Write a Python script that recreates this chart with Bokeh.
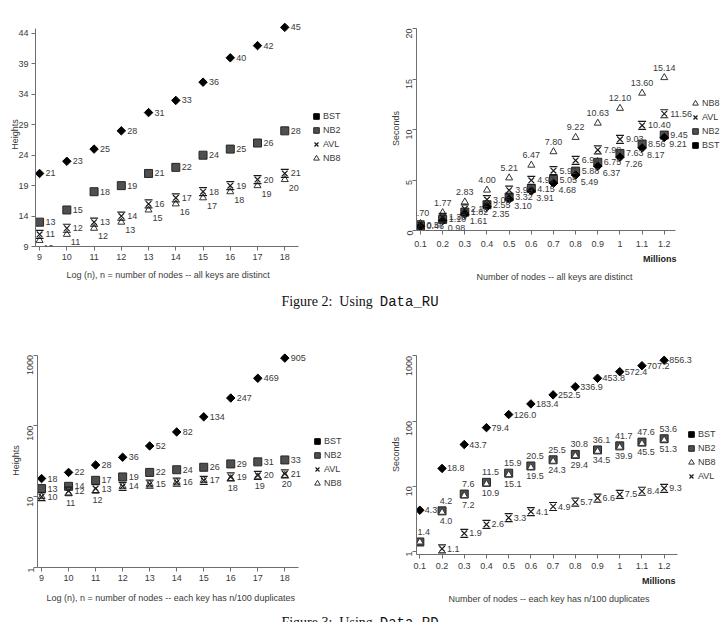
import math

from bokeh.embed import file_html
from bokeh.layouts import column, row
from bokeh.models import (ColumnDataSource, Div, FixedTicker, Label, Legend,
                          LegendItem, Range1d, Title)
from bokeh.plotting import figure
from bokeh.resources import INLINE

# ---------------------------------------------------------------- data
log_n = [9, 10, 11, 12, 13, 14, 15, 16, 17, 18]
log_n_labels = ["9", "10", "11", "12", "13", "14", "15", "16", "17", "18"]

millions = [0.1, 0.2, 0.3, 0.4, 0.5, 0.6, 0.7, 0.8, 0.9, 1, 1.1, 1.2]
millions_labels = ["0.1", "0.2", "0.3", "0.4", "0.5", "0.6", "0.7", "0.8",
                   "0.9", "1", "1.1", "1.2"]

# Data_RU: heights, all keys distinct
ru_height_bst = [21, 23, 25, 28, 31, 33, 36, 40, 42, 45]
ru_height_nb2 = [13, 15, 18, 19, 21, 22, 24, 25, 26, 28]
ru_height_avl = [11, 12, 13, 14, 16, 17, 18, 19, 20, 21]
ru_height_nb8 = [10, 11, 12, 13, 15, 16, 17, 18, 19, 20]
ru_height_ticks = [9, 14, 19, 24, 29, 34, 39, 44]

# Data_RU: seconds, all keys distinct
ru_sec_nb8 = [0.70, 1.77, 2.83, 4.00, 5.21, 6.47, 7.80, 9.22, 10.63, 12.10, 13.60, 15.14]
ru_sec_avl = [0.57, 1.30, 2.15, 3.06, 3.99, 4.97, 5.92, 6.94, 7.98, 9.03, 10.40, 11.56]
ru_sec_nb2 = [0.46, 1.10, 1.82, 2.55, 3.32, 4.15, 5.05, 5.88, 6.75, 7.63, 8.56, 9.45]
ru_sec_bst = [0.41, 0.98, 1.61, 2.35, 3.10, 3.91, 4.68, 5.49, 6.37, 7.26, 8.17, 9.21]
ru_sec_ticks = [0, 5, 10, 15, 20]

# Data_RD: heights, each key has n/100 duplicates
rd_height_bst = [18, 22, 28, 36, 52, 82, 134, 247, 469, 905]
rd_height_nb2 = [13, 14, 17, 19, 22, 24, 26, 29, 31, 33]
rd_height_avl = [10, 12, 13, 14, 15, 16, 17, 19, 20, 21]
rd_height_nb8 = [10, 11, 12, 14, 15, 16, 17, 18, 19, 20]

# Data_RD: seconds, each key has n/100 duplicates (AVL at 0.1 falls below the axis)
rd_sec_bst = [4.3, 18.8, 43.7, 79.4, 126.0, 183.4, 252.5, 336.9, 453.8, 572.4, 707.2, 856.3]
rd_sec_nb2 = [1.4, 4.2, 7.6, 11.5, 15.9, 20.5, 25.5, 30.8, 36.1, 41.7, 47.6, 53.6]
rd_sec_nb8 = [1.4, 4.0, 7.2, 10.9, 15.1, 19.5, 24.3, 29.4, 34.5, 39.9, 45.5, 51.3]
rd_sec_avl = [float("nan"), 1.1, 1.9, 2.6, 3.3, 4.1, 4.9, 5.7, 6.6, 7.5, 8.4, 9.3]

log_ticks = [1, 10, 100, 1000]
log_tick_labels = ["1", "10", "100", "1000"]

# ---------------------------------------------------------------- style
FONT = "Liberation Sans"
FS = "9px"
TEXT = "#3a3a3a"
AXIS = "#6e6e6e"


def make_fig(x_range, y_range, y_type, left, top, bottom):
    p = figure(width=360, height=285, x_range=x_range, y_range=y_range,
               y_axis_type=y_type, output_backend="svg", toolbar_location=None,
               title=None, frame_align=False,
               min_border_left=left, min_border_right=0,
               min_border_top=top, min_border_bottom=bottom)
    p.grid.visible = False
    p.outline_line_color = None
    for ax in p.axis:
        ax.axis_line_color = AXIS
        ax.major_tick_line_color = AXIS
        ax.minor_tick_line_color = None
        ax.major_tick_out = 4
        ax.major_tick_in = 0
        ax.major_label_standoff = 3
        ax.major_label_text_font = FONT
        ax.major_label_text_font_size = FS
        ax.major_label_text_color = TEXT
        ax.axis_label_text_font = FONT
        ax.axis_label_text_font_size = FS
        ax.axis_label_text_font_style = "normal"
        ax.axis_label_text_color = TEXT
    p.yaxis.axis_label_standoff = 1
    return p


def set_ticks(ax, ticks, labels):
    ax.ticker = FixedTicker(ticks=ticks)
    ax.major_label_overrides = {t: s for t, s in zip(ticks, labels)}


def draw_series(p, kind, xs, ys, fmt, dx, dy, align, baseline, shown=None):
    keep = [i for i, y in enumerate(ys) if not math.isnan(y)]
    src = ColumnDataSource(dict(x=[xs[i] for i in keep], y=[ys[i] for i in keep]))
    rs = []
    if kind == "BST":
        rs.append(p.scatter("x", "y", source=src, marker="square", angle=math.pi / 4,
                            size=6, fill_color="#000000", line_color="#000000"))
    elif kind == "NB2":
        rs.append(p.scatter("x", "y", source=src, marker="square", size=8,
                            fill_color="#4f4f4f", line_color="#262626"))
    elif kind == "NB8":
        rs.append(p.scatter("x", "y", source=src, marker="triangle", size=7,
                            fill_color="#ffffff", line_color="#333333", line_width=1))
    else:  # AVL: an hourglass made from an x and a top/bottom bar pair
        p.rect("x", "y", source=src, width=8, height=8, width_units="screen",
               height_units="screen", fill_color=None, line_color="#1a1a1a",
               line_width=1.2, line_dash="8 8")
        rs.append(p.scatter("x", "y", source=src, marker="x", size=8,
                            line_color="#1a1a1a", line_width=1.2))
    # value labels, one annotation per point so that none is cut at the frame edge
    for i in keep:
        if shown is not None and not shown[i]:
            continue
        p.add_layout(Label(x=xs[i], y=ys[i], text=fmt.format(ys[i]),
                           x_offset=dx, y_offset=dy, text_align=align,
                           text_baseline=baseline, text_font=FONT,
                           text_font_size=FS, text_color=TEXT))
    return rs


def add_legend(p, entries, loc):
    items = [LegendItem(label=name, renderers=rs) for name, rs in entries]
    leg = Legend(items=items, location=loc, border_line_color=None,
                 background_fill_alpha=0, label_text_font=FONT, label_text_font_size=FS,
                 label_text_color=TEXT, glyph_width=14, glyph_height=14,
                 label_height=13, label_standoff=0, spacing=0, padding=0, margin=0)
    p.add_layout(leg)


def add_below_titles(p, texts):
    # (text, align, bold, standoff, offset)
    for text, align, bold, gap, shift in texts:
        p.add_layout(Title(text=text, align=align, text_font=FONT, text_font_size=FS,
                           text_font_style="bold" if bold else "normal",
                           text_color="#222222" if bold else TEXT,
                           standoff=gap, offset=shift), "below")


# ---------------------------------------------------------------- Data_RU heights
p1 = make_fig(Range1d(8.85, 20.78), Range1d(9, 45.8), "linear", 35, 22, 39)
set_ticks(p1.xaxis[0], log_n, log_n_labels)
set_ticks(p1.yaxis[0], ru_height_ticks, [str(t) for t in ru_height_ticks])
p1.xaxis.bounds = (8.85, 18.5)
p1.yaxis.bounds = (9, 44.8)
p1.yaxis.axis_label = "Heights"
p1.yaxis.axis_label_standoff = -5
r_bst = draw_series(p1, "BST", log_n, ru_height_bst, "{:.0f}", 6, 0, "left", "middle")
r_nb2 = draw_series(p1, "NB2", log_n, ru_height_nb2, "{:.0f}", 6, 0, "left", "middle")
r_nb8 = draw_series(p1, "NB8", log_n, ru_height_nb8, "{:.0f}", 4, -8, "left", "middle")
r_avl = draw_series(p1, "AVL", log_n, ru_height_avl, "{:.0f}", 6, 0, "left", "middle")
add_legend(p1, [("BST", r_bst), ("NB2", r_nb2), ("AVL", r_avl), ("NB8", r_nb8)], (274, 81))
add_below_titles(p1, [("Log (n), n = number of nodes -- all keys are distinct",
                       "left", False, 11, 31)])

# ---------------------------------------------------------------- Data_RU seconds
p2 = make_fig(Range1d(0.082, 1.4537), Range1d(0, 20.2), "linear", 56, 26, 55)
set_ticks(p2.xaxis[0], millions, millions_labels)
set_ticks(p2.yaxis[0], ru_sec_ticks, [str(t) for t in ru_sec_ticks])
p2.xaxis.major_label_standoff = 6
p2.yaxis.major_label_orientation = math.pi / 2
p2.yaxis.axis_label_standoff = 0
p2.xaxis.bounds = (0.082, 1.25)
p2.yaxis.bounds = (0, 20)
p2.yaxis.axis_label = "Seconds"
r_nb8 = draw_series(p2, "NB8", millions, ru_sec_nb8, "{:.2f}", 0, 7, "center", "bottom")
r_nb2 = draw_series(p2, "NB2", millions, ru_sec_nb2, "{:.2f}", 6, 0, "left", "middle")
r_bst = draw_series(p2, "BST", millions, ru_sec_bst, "{:.2f}", 5, -7, "left", "middle")
r_avl = draw_series(p2, "AVL", millions, ru_sec_avl, "{:.2f}", 6, 0, "left", "middle")
add_legend(p2, [("NB8", r_nb8), ("AVL", r_avl), ("NB2", r_nb2), ("BST", r_bst)], (272, 78))
add_below_titles(p2, [("Millions", "right", True, 4, 44),
                      ("Number of nodes -- all keys are distinct", "left", False, 8, 60)])

# ---------------------------------------------------------------- Data_RD heights
p3 = make_fig(Range1d(8.85, 20.8), Range1d(1, 1050), "log", 37, 28, 43)
set_ticks(p3.xaxis[0], log_n, log_n_labels)
set_ticks(p3.yaxis[0], log_ticks, log_tick_labels)
p3.yaxis.major_label_orientation = math.pi / 2
p3.xaxis.bounds = (8.85, 18.5)
p3.yaxis.bounds = (1, 1000)
p3.yaxis.axis_label = "Heights"
rd_nb8_shown = [a != b for a, b in zip(rd_height_nb8, rd_height_avl)]
r_bst = draw_series(p3, "BST", log_n, rd_height_bst, "{:.0f}", 6, 0, "left", "middle")
r_nb2 = draw_series(p3, "NB2", log_n, rd_height_nb2, "{:.0f}", 6, 0, "left", "middle")
r_nb8 = draw_series(p3, "NB8", log_n, rd_height_nb8, "{:.0f}", 2, -9, "center", "middle",
                    rd_nb8_shown)
r_avl = draw_series(p3, "AVL", log_n, rd_height_avl, "{:.0f}", 6, 0, "left", "middle")
add_legend(p3, [("BST", r_bst), ("NB2", r_nb2), ("AVL", r_avl), ("NB8", r_nb8)], (273, 77))
add_below_titles(p3, [("Log (n), n = number of nodes -- each key has n/100 duplicates",
                       "left", False, 15, 9)])

# ---------------------------------------------------------------- Data_RD seconds
p4 = make_fig(Range1d(0.085, 1.4537), Range1d(0.9, 1050), "log", 56, 29, 56)
set_ticks(p4.xaxis[0], millions, millions_labels)
set_ticks(p4.yaxis[0], log_ticks, log_tick_labels)
p4.xaxis.major_label_standoff = 4
p4.yaxis.major_label_orientation = math.pi / 2
p4.yaxis.axis_label_standoff = 0
p4.xaxis.bounds = (0.085, 1.26)
p4.yaxis.bounds = (0.9, 1000)
p4.yaxis.axis_label = "Seconds"
rd_sec_nb8_shown = [a != b for a, b in zip(rd_sec_nb8, rd_sec_nb2)]
r_bst = draw_series(p4, "BST", millions, rd_sec_bst, "{:.1f}", 5, 0, "left", "middle")
r_nb2 = draw_series(p4, "NB2", millions, rd_sec_nb2, "{:.1f}", 4, 10, "center", "middle")
r_nb8 = draw_series(p4, "NB8", millions, rd_sec_nb8, "{:.1f}", 4, -9, "center", "middle",
                    rd_sec_nb8_shown)
r_avl = draw_series(p4, "AVL", millions, rd_sec_avl, "{:.1f}", 5, 0, "left", "middle")
add_legend(p4, [("BST", r_bst), ("NB2", r_nb2), ("NB8", r_nb8), ("AVL", r_avl)], (268, 71))
add_below_titles(p4, [("Millions", "right", True, 4, 45),
                      ("Number of nodes -- each key has n/100 duplicates", "left", False, 8, 32)])

# ---------------------------------------------------------------- captions
def caption(text, code, height, pad):
    html = ('<div style="padding-top:%dpx;padding-left:6px;text-align:center;width:714px;'
            'font-family:\'Liberation Serif\';font-size:14px;line-height:16px;color:#111;">'
            '%s &nbsp;<span style="font-family:\'Liberation Mono\';">%s</span></div>'
            % (pad, text, code))
    return Div(text=html, width=720, height=height, margin=0,
               styles={"overflow": "hidden"})


cap1 = caption("Figure 2: &nbsp;Using", "Data_RU", 40, 9)
cap2 = caption("Figure 3: &nbsp;Using", "Data_RD", 12, 5)

layout = column(row(p1, p2), cap1, row(p3, p4), cap2)

with open("out.html", "w") as f:
    f.write(file_html(layout, INLINE))
